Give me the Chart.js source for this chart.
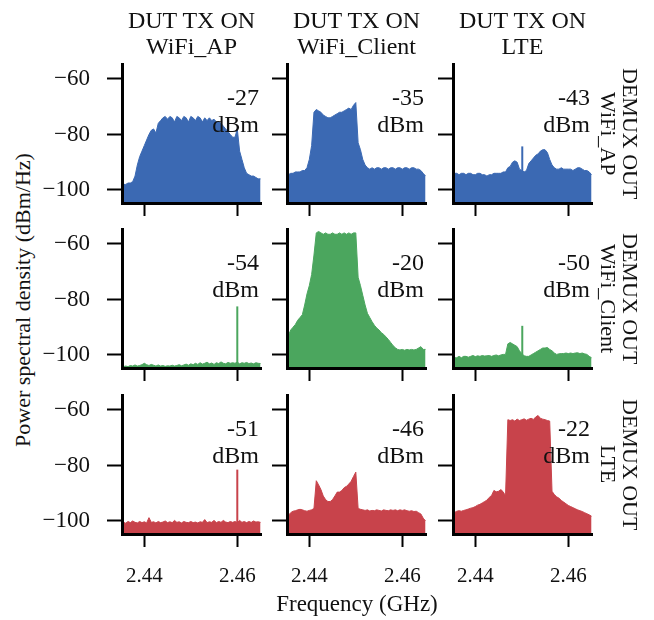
<!DOCTYPE html>
<html>
<head>
<meta charset="utf-8">
<script src="https://cdn.jsdelivr.net/npm/chart.js@4.4.1/dist/chart.umd.min.js"></script>
<style>
  body { margin: 0; background: #fff; }
  #fig { position: relative; width: 654px; height: 620px; font-family: "Liberation Serif", "DejaVu Serif", serif; color: #111; }
  #fig canvas { position: absolute; }
  .txt { position: absolute; white-space: nowrap; }
</style>
</head>
<body>
<div id="fig"></div>
<script>
// frequency grid (GHz) shared by every trace
const freqs = [
  2.4350, 2.4355, 2.4360, 2.4365, 2.4370, 2.4375, 2.4380, 2.4385, 2.4390, 2.4395,
  2.4400, 2.4405, 2.4410, 2.4415, 2.4420, 2.4425, 2.4430, 2.4435, 2.4440, 2.4445,
  2.4450, 2.4455, 2.4460, 2.4465, 2.4470, 2.4475, 2.4480, 2.4485, 2.4490, 2.4495,
  2.4500, 2.4505, 2.4510, 2.4515, 2.4520, 2.4525, 2.4530, 2.4535, 2.4540, 2.4545,
  2.4550, 2.4555, 2.4560, 2.4565, 2.4570, 2.4575, 2.4580, 2.4585, 2.4590, 2.4595,
  2.4600, 2.4605, 2.4610, 2.4615, 2.4620, 2.4625, 2.4630, 2.4635, 2.4640, 2.4645,
  2.4650
];

// PSD (dBm/Hz), named <tx>On<demux output>
const apOnAp = [
  -98.5, -98, -98, -97.5, -97.5, -97, -95, -91, -88, -86,
  -84, -82, -80, -78.5, -78, -79.5, -76, -75, -74, -73.5,
  -74.5, -73.5, -74, -75.5, -73.5, -74, -75, -73.5, -74, -75.5,
  -73.5, -74, -75, -73.5, -74, -75.5, -74, -75, -74, -75,
  -74.5, -75.5, -75.5, -76, -77, -78, -79, -80, -81, -81,
  -78, -86, -89, -92, -94, -94.5, -95, -95, -95.5, -96,
  -96
];
const clientOnAp = [
  -95, -94.5, -94, -94, -93.5, -93.5, -93.5, -93, -93, -92,
  -89, -84, -72, -71, -71.5, -72, -73, -73.5, -74, -74,
  -73.5, -73, -72.5, -72, -72, -71.5, -71, -70.5, -71, -69.5,
  -68.5, -83, -85.5, -89, -91, -92, -92.5, -92, -92.5, -92,
  -92, -92.5, -92, -92, -92.5, -92, -92, -92.5, -92, -92,
  -92.5, -92, -92, -92.5, -92, -92, -92.5, -92.5, -93, -94,
  -95
];
const lteOnAp = [
  -94.5, -94, -94, -94.5, -94, -94, -94.5, -94, -94, -94.5,
  -94.5, -94, -94, -94.5, -94.5, -95, -94.5, -94.5, -94, -94,
  -94, -94, -93.5, -93.5, -92, -91.5, -90, -89.5, -90, -92.5,
  -93, -93.5, -93, -90.5, -89.5, -88.5, -87.5, -87, -86, -85.5,
  -85.5, -86.5, -89, -91, -92, -92.5, -92.5, -92, -92.5, -92.5,
  -92.5, -92.5, -93, -92.5, -92, -92, -92.5, -93, -93, -93.5,
  -94.5
];
const apOnClient = [
  -104.5, -104.2, -104, -104.2, -103.8, -104, -103.6, -104, -103.8, -103.5,
  -103, -103.5, -103.8, -103.4, -103.7, -104, -103.6, -104, -103.8, -104.1,
  -103.9, -104, -103.7, -104, -103.8, -103.5, -103.9, -103.6, -103.3, -103.7,
  -103.2, -103.5, -103, -103.4, -102.8, -103.3, -103, -102.6, -103.2, -102.9,
  -103.4, -102.8, -103.1, -102.5, -103, -103.2, -102.7, -103, -102.8, -103,
  -102.6, -103.2, -102.8, -103, -102.7, -103.1, -102.9, -103.2, -102.8, -103,
  -103.1
];
const clientOnClient = [
  -94, -93, -91, -90, -89, -87.5, -86.5, -85.5, -82, -78,
  -75, -71, -64, -56, -55.5, -56, -56.5, -56, -56.5, -56.5,
  -56, -56.5, -56.5, -56, -56.5, -56, -56.5, -56, -56.5, -56,
  -56, -72, -75, -78.5, -82, -85, -86.5, -88, -89.3, -90.3,
  -91, -92, -92.6, -93.5, -94.4, -95.5, -96.6, -97.4, -98, -98.2,
  -98, -98.3, -98, -98.2, -98, -98.2, -98, -97.5, -97, -98,
  -98
];
const lteOnClient = [
  -101.5, -101, -101, -100.5, -101, -100.5, -100.5, -100.8, -100.5, -100.2,
  -100.6, -100.3, -100.5, -100.2, -100.4, -100.3, -100.2, -100.5, -100.2, -100,
  -100.3, -100, -99.8, -99.8, -96, -95.5, -96, -96.5, -97, -98.5,
  -99.5, -100.3, -100.5, -100.5, -100, -99.5, -99, -98.5, -98, -97.5,
  -97.5, -97.3, -98, -98.5, -99.3, -99.8, -99.6, -99.5, -99.5, -99.3,
  -99.5, -99.3, -99.5, -99.3, -99.2, -99.5, -99.3, -99.6, -99.8, -100.5,
  -101
];
const apOnLte = [
  -101.5, -100.5, -100.8, -100.2, -100.6, -100, -100.5, -100.7, -100.2, -100.6,
  -100.3, -100.7, -98.8, -100.5, -100.3, -100.7, -100.2, -100.6, -100.4, -100,
  -100.6, -100.3, -100.6, -99.8, -100.5, -100.3, -100.7, -100.2, -100.5, -100.6,
  -100.2, -100.6, -100.4, -100.7, -100.3, -100.5, -99.5, -100.6, -100.3, -100.5,
  -99.8, -100.6, -100.2, -100.5, -99.8, -100.4, -100.6, -100.2, -100.5, -100.2,
  -100.6, -99.8, -100.5, -100.2, -100.6, -100.2, -100.5, -100, -100.4, -100.3,
  -100.5
];
const clientOnLte = [
  -98.5, -98, -97, -96.5, -96.3, -96, -95.8, -96, -96.3, -96.5,
  -96.2, -96, -95.5, -85.5, -87, -88.7, -91, -92.3, -93, -93,
  -92.3, -91, -89.6, -89.6, -89, -88, -87.5, -86.7, -85.7, -84,
  -82.4, -95.5, -95.8, -96, -96.2, -96, -96.4, -96.2, -96.3, -96,
  -96.2, -96.4, -96, -96.2, -96.3, -96, -96.2, -96, -96.3, -96,
  -96.2, -96, -96.3, -96.5, -96.3, -96.6, -96.5, -97, -97.5, -99,
  -100
];
const lteOnLte = [
  -97.5, -97, -96.5, -96.3, -96.5, -96.2, -96, -95.7, -95.4, -95.2,
  -94.8, -94.3, -94, -93.5, -93, -92.5, -91.5, -90.8, -89, -89.5,
  -89.3, -88.7, -89.5, -91, -63.5, -63.8, -63.5, -64, -63.3, -63.8,
  -63.5, -63.2, -63.7, -63.3, -63, -63.4, -62.5, -62, -63, -63.3,
  -63.5, -63.8, -64, -89.3, -90.5, -91.3, -91.8, -92.6, -93.2, -93.8,
  -94.4, -94.8, -95.2, -95.6, -96, -96.3, -96.6, -97, -97.4, -97.8,
  -98.3
];

// narrow spurs [GHz, dBm/Hz]
const spurLteOnAp = [2.4501, -84.3];
const spurApOnClient = [2.4600, -82.5];
const spurLteOnClient = [2.4501, -89.5];
const spurApOnLte = [2.4600, -81.5];

const bandPower = [
  ['-27', '-35', '-43'],
  ['-54', '-20', '-50'],
  ['-51', '-46', '-22']
];
const colTitles = [['DUT TX ON', 'WiFi_AP'], ['DUT TX ON', 'WiFi_Client'], ['DUT TX ON', 'LTE']];
const rowTitles = [['DEMUX OUT', 'WiFi_AP'], ['DEMUX OUT', 'WiFi_Client'], ['DEMUX OUT', 'LTE']];

const xTicks = [2.44, 2.46];
const xTickLabels = ['2.44', '2.46'];
const yTicks = [-100, -80, -60];
const yTickLabels = ['\u2212100', '\u221280', '\u221260'];

const BLUE = '#3b69b3', GREEN = '#4ba65e', RED = '#c8434b';
const panels = [
  [apOnAp, BLUE, null], [clientOnAp, BLUE, null], [lteOnAp, BLUE, spurLteOnAp],
  [apOnClient, GREEN, spurApOnClient], [clientOnClient, GREEN, null], [lteOnClient, GREEN, spurLteOnClient],
  [apOnLte, RED, spurApOnLte], [clientOnLte, RED, null], [lteOnLte, RED, null]
];

// layout
const COL_LEFT = [122, 287, 453];
const ROW_TOP = [64, 229, 395];
const PLOT_W = 139, PLOT_H = 139;
const Y_AXIS_W = 80, X_AXIS_H = 60, PAD_TOP = 32, PAD_RIGHT = 24;
const X_MIN = 2.4352, X_MAX = 2.4651, Y_MIN = -104.7, Y_MAX = -54.6;
const FONT = '"Liberation Serif", "DejaVu Serif", serif';

const fig = document.getElementById('fig');

function addText(text, css) {
  const el = document.createElement('div');
  el.className = 'txt';
  el.innerHTML = text;
  Object.assign(el.style, css);
  fig.appendChild(el);
  return el;
}

panels.forEach(([vals, color, spur], i) => {
  const r = Math.floor(i / 3), c = i % 3;
  const cv = document.createElement('canvas');
  cv.width = Y_AXIS_W + PLOT_W + PAD_RIGHT;
  cv.height = PAD_TOP + PLOT_H + X_AXIS_H;
  cv.style.left = (COL_LEFT[c] - Y_AXIS_W) + 'px';
  cv.style.top = (ROW_TOP[r] - PAD_TOP) + 'px';
  fig.appendChild(cv);

  const datasets = [{
    data: freqs.map((f, k) => ({ x: f, y: vals[k] })),
    borderColor: color,
    backgroundColor: color,
    borderWidth: 1,
    pointRadius: 0,
    tension: 0,
    fill: 'start'
  }];
  if (spur) {
    datasets.push({
      data: [{ x: spur[0], y: Y_MIN }, { x: spur[0], y: spur[1] }],
      borderColor: color,
      borderWidth: 2,
      pointRadius: 0,
      fill: false
    });
  }

  const axisGrid = (len) => ({
    drawOnChartArea: false, drawTicks: true, tickLength: len, tickWidth: 2, tickColor: '#000'
  });
  const axisBorder = { display: true, color: '#000', width: 3, z: 1 };

  new Chart(cv, {
    type: 'line',
    data: { datasets },
    options: {
      responsive: false,
      animation: false,
      layout: { padding: { top: PAD_TOP, right: PAD_RIGHT, left: 0, bottom: 0 } },
      plugins: { legend: { display: false }, tooltip: { enabled: false } },
      scales: {
        x: {
          type: 'linear', min: X_MIN, max: X_MAX,
          afterBuildTicks: (s) => { s.ticks = xTicks.map((v) => ({ value: v })); },
          afterFit: (s) => { s.height = X_AXIS_H; },
          grid: axisGrid(13),
          border: axisBorder,
          ticks: {
            display: r === 2, padding: 17, color: '#111', maxRotation: 0, autoSkip: false,
            font: { family: FONT, size: 21 },
            callback: (v, idx) => xTickLabels[idx]
          }
        },
        y: {
          type: 'linear', min: Y_MIN, max: Y_MAX,
          afterBuildTicks: (s) => { s.ticks = yTicks.map((v) => ({ value: v })); },
          afterFit: (s) => { s.width = Y_AXIS_W; },
          grid: axisGrid(15),
          border: axisBorder,
          ticks: {
            display: c === 0, padding: 17, color: '#111',
            font: { family: FONT, size: 23 },
            callback: (v, idx) => yTickLabels[idx]
          }
        }
      }
    }
  });

  // integrated power note, top-right of each panel
  addText(bandPower[r][c] + '<br>dBm', {
    right: (654 - (COL_LEFT[c] + PLOT_W - 2)) + 'px',
    top: (ROW_TOP[r] + 20) + 'px',
    fontSize: '24px', lineHeight: '27px', textAlign: 'right'
  });
});

colTitles.forEach((lines, c) => {
  addText(lines.join('<br>'), {
    left: (COL_LEFT[c] + PLOT_W / 2) + 'px', top: '7px',
    transform: 'translateX(-50%)', fontSize: '24px', lineHeight: '26px', textAlign: 'center'
  });
});

rowTitles.forEach((lines, r) => {
  addText(lines.join('<br>'), {
    left: '597px', top: (ROW_TOP[r] + PLOT_H / 2 - 100) + 'px', height: '200px',
    writingMode: 'vertical-rl', fontSize: '22px', lineHeight: '22px', textAlign: 'center'
  });
});

addText('Power spectral density (dBm/Hz)', {
  left: '23px', top: '300px', fontSize: '22px', lineHeight: '24px',
  transform: 'translate(-50%, -50%) rotate(-90deg)'
});
addText('Frequency (GHz)', {
  left: '357px', top: '604px', fontSize: '23px', lineHeight: '24px',
  transform: 'translate(-50%, -50%)'
});
</script>
</body>
</html>
